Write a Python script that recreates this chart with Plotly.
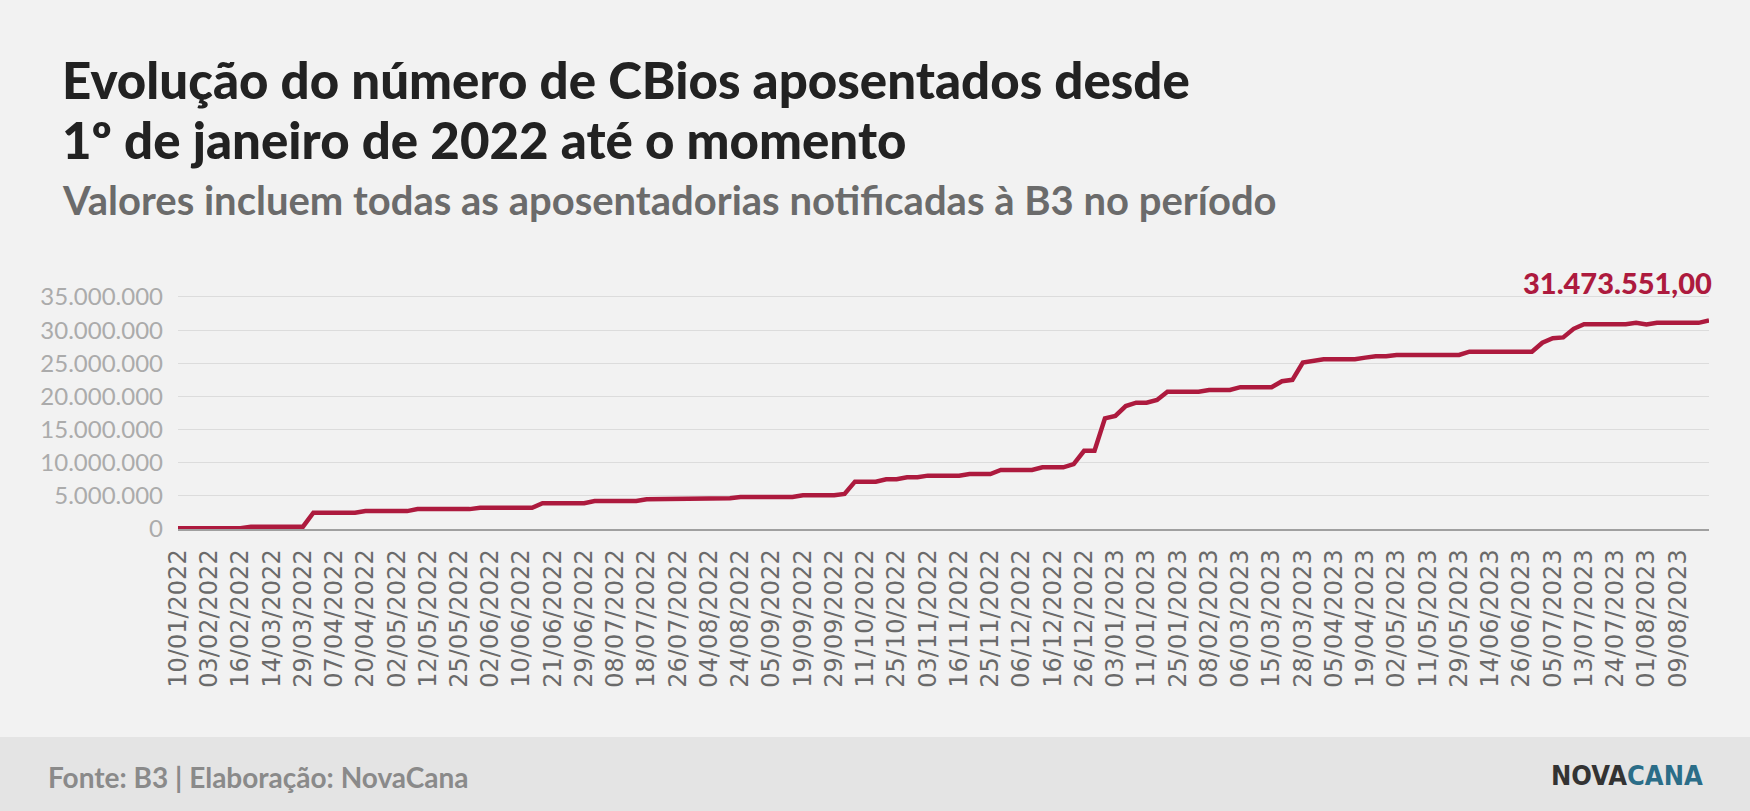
import plotly.graph_objects as go

# ---------------- data ----------------
datas = [
    "10/01/2022", "19/01/2022", "27/01/2022",
    "03/02/2022", "08/02/2022", "11/02/2022",
    "16/02/2022", "23/02/2022", "04/03/2022",
    "14/03/2022", "18/03/2022", "24/03/2022",
    "29/03/2022", "31/03/2022", "04/04/2022",
    "07/04/2022", "12/04/2022", "18/04/2022",
    "20/04/2022", "25/04/2022", "28/04/2022",
    "02/05/2022", "05/05/2022", "09/05/2022",
    "12/05/2022", "17/05/2022", "20/05/2022",
    "25/05/2022", "27/05/2022", "31/05/2022",
    "02/06/2022", "06/06/2022", "08/06/2022",
    "10/06/2022", "14/06/2022", "17/06/2022",
    "21/06/2022", "23/06/2022", "27/06/2022",
    "29/06/2022", "04/07/2022", "06/07/2022",
    "08/07/2022", "12/07/2022", "14/07/2022",
    "18/07/2022", "20/07/2022", "22/07/2022",
    "26/07/2022", "29/07/2022", "02/08/2022",
    "04/08/2022", "11/08/2022", "18/08/2022",
    "24/08/2022", "29/08/2022", "01/09/2022",
    "05/09/2022", "09/09/2022", "14/09/2022",
    "19/09/2022", "22/09/2022", "27/09/2022",
    "29/09/2022", "04/10/2022", "07/10/2022",
    "11/10/2022", "17/10/2022", "20/10/2022",
    "25/10/2022", "28/10/2022", "01/11/2022",
    "03/11/2022", "08/11/2022", "11/11/2022",
    "16/11/2022", "18/11/2022", "23/11/2022",
    "25/11/2022", "29/11/2022", "02/12/2022",
    "06/12/2022", "09/12/2022", "13/12/2022",
    "16/12/2022", "20/12/2022", "22/12/2022",
    "26/12/2022", "28/12/2022", "30/12/2022",
    "03/01/2023", "05/01/2023", "09/01/2023",
    "11/01/2023", "16/01/2023", "20/01/2023",
    "25/01/2023", "30/01/2023", "03/02/2023",
    "08/02/2023", "15/02/2023", "27/02/2023",
    "06/03/2023", "09/03/2023", "13/03/2023",
    "15/03/2023", "20/03/2023", "23/03/2023",
    "28/03/2023", "30/03/2023", "03/04/2023",
    "05/04/2023", "11/04/2023", "14/04/2023",
    "19/04/2023", "24/04/2023", "27/04/2023",
    "02/05/2023", "05/05/2023", "09/05/2023",
    "11/05/2023", "17/05/2023", "23/05/2023",
    "29/05/2023", "02/06/2023", "08/06/2023",
    "14/06/2023", "19/06/2023", "22/06/2023",
    "26/06/2023", "28/06/2023", "30/06/2023",
    "05/07/2023", "07/07/2023", "11/07/2023",
    "13/07/2023", "17/07/2023", "20/07/2023",
    "24/07/2023", "26/07/2023", "28/07/2023",
    "01/08/2023", "03/08/2023", "07/08/2023",
    "09/08/2023", "11/08/2023", "15/08/2023", "17/08/2023",
]

# CBios aposentados (acumulado)
cbios = [
    100000, 100000, 100000,
    100000, 100000, 100000,
    100000, 350000, 350000,
    350000, 350000, 350000,
    350000, 2460000, 2460000,
    2460000, 2460000, 2460000,
    2700000, 2700000, 2700000,
    2700000, 2700000, 3000000,
    3000000, 3000000, 3000000,
    3000000, 3000000, 3200000,
    3200000, 3200000, 3200000,
    3200000, 3200000, 3900000,
    3900000, 3900000, 3900000,
    3900000, 4220000, 4220000,
    4220000, 4220000, 4220000,
    4480000, 4480000, 4480000,
    4630000, 4630000, 4630000,
    4630000, 4630000, 4630000,
    4830000, 4830000, 4830000,
    4830000, 4830000, 4830000,
    5080000, 5080000, 5080000,
    5080000, 5280000, 7140000,
    7140000, 7140000, 7500000,
    7500000, 7800000, 7800000,
    8050000, 8050000, 8050000,
    8050000, 8300000, 8300000,
    8300000, 8900000, 8900000,
    8900000, 8900000, 9300000,
    9300000, 9300000, 9800000,
    11800000, 11800000, 16700000,
    17050000, 18550000, 19050000,
    19050000, 19460000, 20700000,
    20700000, 20700000, 20700000,
    20970000, 20970000, 20970000,
    21400000, 21400000, 21400000,
    21400000, 22300000, 22500000,
    25100000, 25350000, 25600000,
    25600000, 25600000, 25600000,
    25850000, 26050000, 26050000,
    26250000, 26250000, 26250000,
    26250000, 26250000, 26250000,
    26250000, 26750000, 26750000,
    26750000, 26750000, 26750000,
    26750000, 26750000, 28100000,
    28770000, 28900000, 30200000,
    30900000, 30900000, 30900000,
    30900000, 30900000, 31100000,
    30850000, 31100000, 31100000,
    31100000, 31100000, 31100000, 31473551,
]

rotulos_x = [
    "10/01/2022", "03/02/2022", "16/02/2022", "14/03/2022", "29/03/2022",
    "07/04/2022", "20/04/2022", "02/05/2022", "12/05/2022", "25/05/2022",
    "02/06/2022", "10/06/2022", "21/06/2022", "29/06/2022", "08/07/2022",
    "18/07/2022", "26/07/2022", "04/08/2022", "24/08/2022", "05/09/2022",
    "19/09/2022", "29/09/2022", "11/10/2022", "25/10/2022", "03/11/2022",
    "16/11/2022", "25/11/2022", "06/12/2022", "16/12/2022", "26/12/2022",
    "03/01/2023", "11/01/2023", "25/01/2023", "08/02/2023", "06/03/2023",
    "15/03/2023", "28/03/2023", "05/04/2023", "19/04/2023", "02/05/2023",
    "11/05/2023", "29/05/2023", "14/06/2023", "26/06/2023", "05/07/2023",
    "13/07/2023", "24/07/2023", "01/08/2023", "09/08/2023",
]

ticks_y = [0, 5000000, 10000000, 15000000, 20000000, 25000000, 30000000, 35000000]

# ---------------- figure ----------------
RED = "#ad1a3e"
BG = "#f2f2f2"
HEAVY = "Lato Black, Lato Heavy, Lato"

fig = go.Figure()
fig.add_trace(go.Scatter(
    x=datas, y=cbios, mode="lines",
    line=dict(color=RED, width=4.5),
    hoverinfo="skip", showlegend=False,
))

PLOT_TOP, PLOT_BOT = 295, 529
PLOT_L, PLOT_R = 178, 1709
H = PLOT_BOT - PLOT_TOP
W = PLOT_R - PLOT_L


def py(p):
    return (PLOT_BOT - p) / H


def px(p):
    return (p - PLOT_L) / W


fig.update_layout(
    width=1750, height=811,
    paper_bgcolor=BG, plot_bgcolor=BG,
    margin=dict(l=PLOT_L, r=1750 - PLOT_R, t=PLOT_TOP, b=811 - PLOT_BOT),
    separators=",.",
    showlegend=False,
    xaxis=dict(
        type="category",
        categoryorder="array", categoryarray=datas,
        range=[0, len(datas) - 1],
        tickmode="array", tickvals=rotulos_x, ticktext=rotulos_x,
        tickangle=-90,
        tickfont=dict(family="DejaVu Sans", size=24, color="#6a6a6a"),
        ticks="", ticklabelstandoff=9,
        showgrid=False, showline=True, linecolor="#a0a0a0", linewidth=1.5,
        zeroline=False,
    ),
    yaxis=dict(
        range=[0, 35300000],
        tickmode="array", tickvals=ticks_y,
        tickformat=",d",
        tickfont=dict(family="Lato", size=24, color="#ababab"),
        ticks="", ticklabelstandoff=14,
        showgrid=True, gridcolor="#dcdcdc", gridwidth=1,
        zeroline=False, showline=False,
    ),
)

# footer band
fig.add_shape(type="rect", xref="paper", yref="paper",
              x0=px(-10), x1=px(1760), y0=py(737), y1=py(820),
              fillcolor="#e4e4e4", line=dict(width=0), layer="below")

ann = []
ann.append(dict(text="Evolução do número de CBios aposentados desde",
                x=px(60), y=py(80), xanchor="left", yanchor="middle",
                font=dict(family=HEAVY, size=51, color="#222222", weight=900)))
ann.append(dict(text="1º de janeiro de 2022 até o momento",
                x=px(60), y=py(140), xanchor="left", yanchor="middle",
                font=dict(family=HEAVY, size=51, color="#222222", weight=900)))
ann.append(dict(text="Valores incluem todas as aposentadorias notificadas à B3 no período",
                x=px(60), y=py(200), xanchor="left", yanchor="middle",
                font=dict(family="Lato", size=40, color="#6b6b6b", weight=700)))
ann.append(dict(text="Fonte: B3 | Elaboração: NovaCana",
                x=px(46), y=py(777), xanchor="left", yanchor="middle",
                font=dict(family="Lato", size=28, color="#8a8a8a", weight=700)))
ann.append(dict(text="NOVA<span style='color:#2b6d88'>CANA</span>",
                x=px(1705), y=py(775), xanchor="right", yanchor="middle",
                font=dict(family="Liberation Sans Narrow, DejaVu Sans Condensed, Liberation Sans",
                          size=27, color="#333333", weight=700)))
ann.append(dict(text="31.473.551,00",
                x=datas[-1], y=cbios[-1], xref="x", yref="y",
                xanchor="right", yanchor="bottom", xshift=5, yshift=18,
                font=dict(family=HEAVY, size=29, color=RED, weight=900)))

for a in ann:
    a.setdefault("xref", "paper")
    a.setdefault("yref", "paper")
    a["showarrow"] = False
    fig.add_annotation(**a)

fig.write_html(
    "out.html",
    config={"displayModeBar": False},
    post_script="document.body.style.margin='0';document.body.style.overflow='hidden';",
)
